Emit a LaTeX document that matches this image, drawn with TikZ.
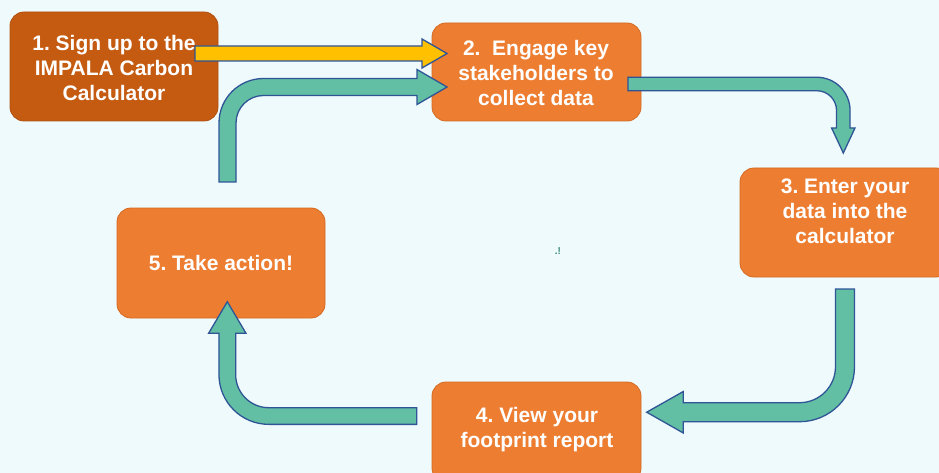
\documentclass[tikz,border=0pt]{standalone}
\usepackage{fontspec}
\setmainfont{Liberation Sans}
\definecolor{bg}{HTML}{EFFAFC}
\definecolor{boxor}{HTML}{ED7D31}
\definecolor{boxdark}{HTML}{C55A11}
\definecolor{boxedge}{HTML}{D46A22}
\definecolor{teal}{HTML}{62BFA3}
\definecolor{arrowedge}{HTML}{2F5597}
\definecolor{gold}{HTML}{FFC000}
\definecolor{mark}{HTML}{3C8C7C}
\frenchspacing
\tikzset{
  box/.style={draw=boxedge, line width=0.8pt, fill=boxor, rounded corners=14pt,
    inner sep=0pt, outer sep=0pt},
  lbl/.style={text=white, align=center, inner sep=0pt,
    font=\fontsize{21}{25}\selectfont\bfseries\frenchspacing},
  blockarrow/.style={draw=arrowedge, line width=1.3pt, fill=teal, line join=miter},
  goldarrow/.style={blockarrow, fill=gold}
}
\begin{document}
\begin{tikzpicture}[x=1pt,y=-1pt]
\useasboundingbox (0,0) rectangle (939,473);
\clip (0,0) rectangle (939,473);
\fill[bg] (0,0) rectangle (939,473);

% boxes
\node[box, fill=boxdark, draw=boxdark!90!black, minimum width=208pt, minimum height=109pt] (b1) at (114,66.5) {};
\node[box, minimum width=209pt, minimum height=98pt] (b2) at (536.5,72) {};
\node[box, minimum width=210pt, minimum height=109pt] (b3) at (845,222.5) {};
\node[box, minimum width=209pt, minimum height=100pt] (b4) at (536.5,432) {};
\node[box, minimum width=208pt, minimum height=110pt] (b5) at (221,263) {};

% labels
\node[lbl] (t1) at (114,68) {1. Sign up to the\\IMPALA Carbon\\Calculator};
\node[lbl] (t2) at (536,73) {2.\ \ Engage key\\stakeholders to\\collect data};
\node[lbl] (t3) at (845,211) {3. Enter your\\data into the\\calculator};
\node[lbl] (t4) at (537,430) {4. View your\\footprint report};
\node[lbl] (t5) at (221,263) {5. Take action!};
\node[text=mark, inner sep=0pt, font=\fontsize{10}{10}\selectfont\bfseries] (m) at (558,251) {.!};

% 1 -> 2 (yellow)
\draw[goldarrow] (195,46) -- (422,46) -- (422,39) -- (447,53.5) -- (422,68) -- (422,61) -- (195,61) -- cycle;

% 5 -> 2
\draw[blockarrow] (219,182) -- (219,123) arc[start angle=180, end angle=90, radius=44.5pt]
  -- (417,78.5) -- (417,69.5) -- (447,87) -- (417,104.5) -- (417,95.5) -- (263.5,95.5)
  arc[start angle=90, end angle=180, radius=27.5pt] -- (236,182) -- cycle;

% 2 -> 3
\draw[blockarrow] (628,77.25) -- (816.8,77.25) arc[start angle=90, end angle=0, radius=33.25pt]
  -- (850.05,128) -- (855,128) -- (843.3,153) -- (831.6,128) -- (836.55,128) -- (836.55,110.5)
  arc[start angle=0, end angle=90, radius=19.75pt] -- (628,90.75) -- cycle;

% 3 -> 4
\draw[blockarrow] (835.5,289) -- (835.5,366.7) arc[start angle=0, end angle=-90, radius=36pt]
  -- (683.3,402.7) -- (683.3,391.5) -- (646.7,412.2) -- (683.3,433) -- (683.3,421.7) -- (799.5,421.7)
  arc[start angle=-90, end angle=0, radius=55pt] -- (854.5,289) -- cycle;

% 4 -> 5
\draw[blockarrow] (416.7,407.7) -- (268.8,407.7) arc[start angle=270, end angle=180, radius=33.15pt]
  -- (235.65,333.3) -- (246,333.3) -- (227.3,301.7) -- (208.6,333.3) -- (218.95,333.3) -- (218.95,374.5)
  arc[start angle=180, end angle=270, radius=49.85pt] -- (416.7,424.35) -- cycle;
\end{tikzpicture}
\end{document}
